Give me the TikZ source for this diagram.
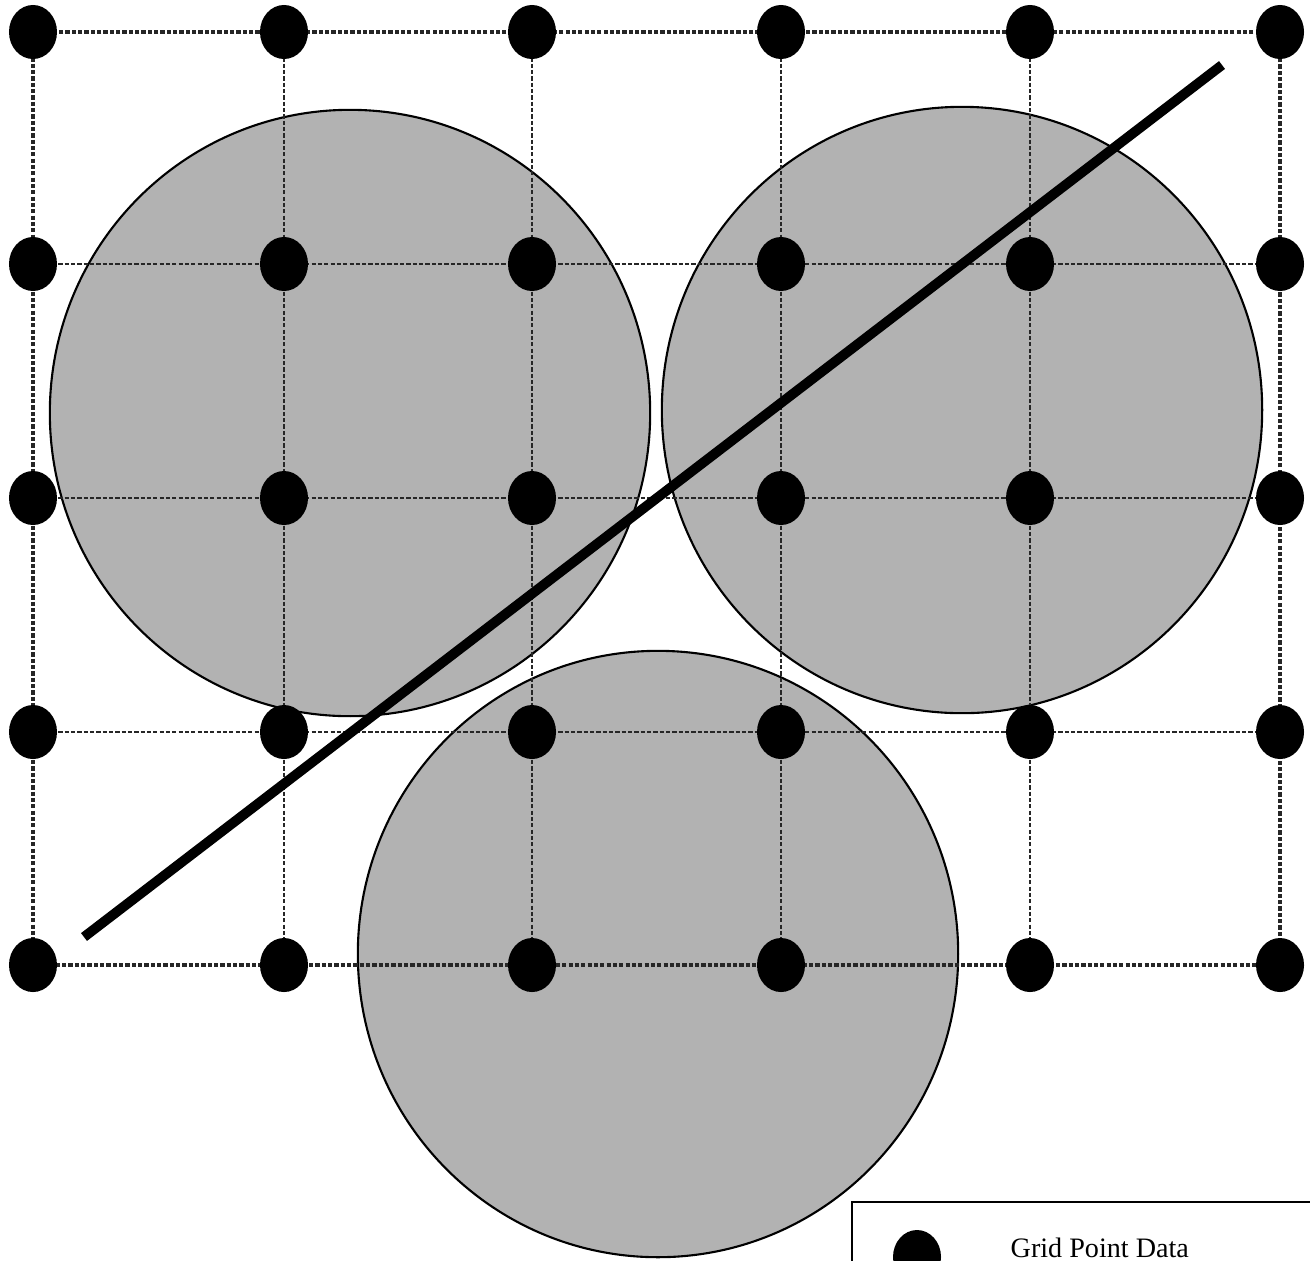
\documentclass[tikz,border=0pt]{standalone}
\usepackage{fontspec}
\setmainfont{Liberation Serif}
\usetikzlibrary{shapes.geometric}
\begin{document}
\begin{tikzpicture}[x=0.01cm, y=-0.01cm,
  gridpt/.style={ellipse, fill=black, minimum width=0.48cm, minimum height=0.54cm, inner sep=0pt},
  gridln/.style={dash pattern=on 1.2pt off 0.6pt, line width=0.6pt, black!85},
  zone/.style={ellipse, fill=black!30, draw=black, line width=0.6pt, minimum width=6cm, minimum height=6.06cm, inner sep=0pt}]
\useasboundingbox (0,0) rectangle (1310,1260);
\clip (0,0) rectangle (1310,1260);
% grid positions
\foreach \i/\x in {0/33,1/284,2/532,3/781,4/1030,5/1280}
  \foreach \j/\y in {0/32,1/264,2/498,3/732,4/965}
    \coordinate (p\i\j) at (\x,\y);
% shaded zones
\node[zone] (zoneL) at (350,413) {};
\node[zone] (zoneR) at (962,410) {};
\node[zone] (zoneB) at (658,954) {};
% grid lines
\foreach \j in {1,2,3}
  \draw[gridln] (p0\j) -- (p5\j);
\foreach \i in {1,2,3,4}
  \draw[gridln] (p\i0) -- (p\i4);
\draw[gridln, line width=0.9pt] (p00) rectangle (p54);
% grid points
\foreach \i in {0,...,5}
  \foreach \j in {0,...,4}
    \node[gridpt] (g\i\j) at (p\i\j) {};
% thick line
\coordinate (lnA) at (84,937);
\coordinate (lnB) at (1222,65);
\draw[line width=2.8pt] (lnA) -- (lnB);
% legend
\draw[line width=0.6pt] (852,1202) rectangle (1340,1300);
\node[gridpt] (legpt) at (917,1257) {};
\node[anchor=base west, inner sep=0pt, font=\fontsize{8}{9}\selectfont] (legtxt) at (1010,1257) {Grid Point Data};
\end{tikzpicture}
\end{document}
